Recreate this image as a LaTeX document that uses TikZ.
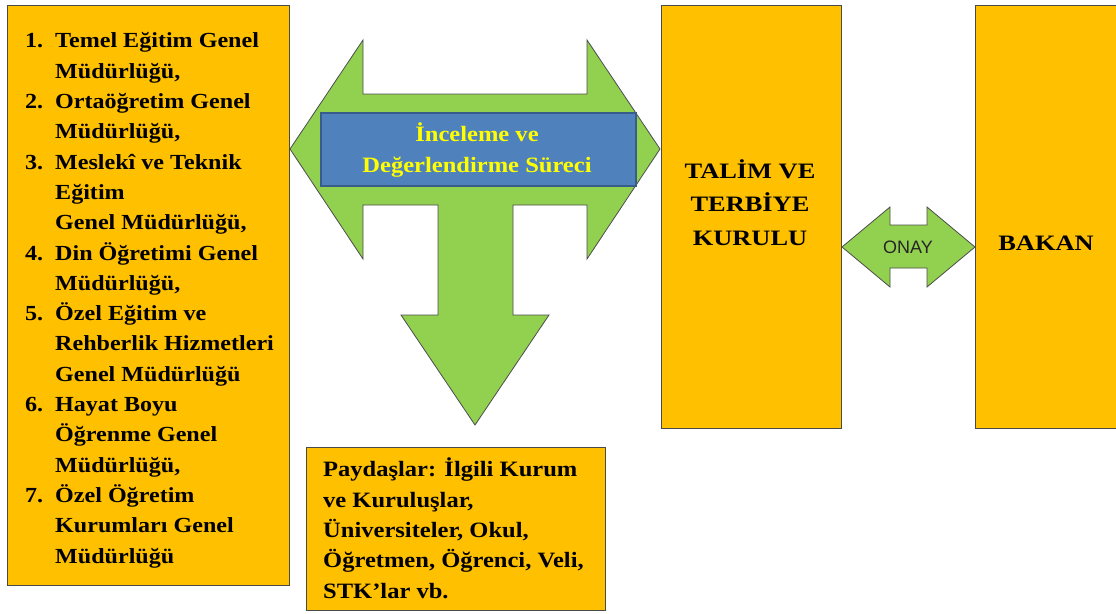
\documentclass[tikz,border=0pt]{standalone}
\usepackage{fontspec}
\setmainfont{Liberation Serif}
\newfontfamily\stfont{Liberation Serif}[FakeStretch=1.12]
\newfontfamily\widefont{Liberation Serif}[FakeStretch=1.2]
\newfontfamily\onayfont{Liberation Sans}
\usetikzlibrary{shadows}
\definecolor{boxorange}{HTML}{FFC000}
\definecolor{arrowgreen}{HTML}{92D050}
\definecolor{procblue}{HTML}{4F81BD}
\definecolor{procborder}{HTML}{385D8A}
\definecolor{edgegray}{HTML}{4A4A4A}
\definecolor{textyellow}{HTML}{FFFF00}
\newcommand{\lnum}[2]{\makebox[30pt][l]{#1.}#2}
\newcommand{\lcont}[1]{\hspace*{30pt}#1}
\tikzset{
  orangebox/.style={draw=edgegray, line width=1pt, fill=boxorange,
    drop shadow={opacity=0.35, shadow xshift=1.2pt, shadow yshift=-1.2pt}},
  greenarrow/.style={draw=black!70, line width=0.8pt, fill=arrowgreen, line join=miter},
  bluebox/.style={draw=procborder, line width=1.5pt, fill=procblue},
  bodytext/.style={inner sep=0pt, align=left, font=\stfont\bfseries\fontsize{21.9}{30.3}\selectfont},
  centertext/.style={inner sep=0pt, align=center, font=\widefont\bfseries\fontsize{22}{33.3}\selectfont},
}
\begin{document}
\begin{tikzpicture}[x=1pt, y=-1pt]
\useasboundingbox (0,0) rectangle (1116,613);
% boxes
\draw[orangebox] (7,5) rectangle (289,585);
\draw[orangebox] (306,447) rectangle (605,610);
\draw[orangebox] (661,5) rectangle (841,428);
\draw[orangebox] (975,5) rectangle (1119,428);
% three-way arrow
\draw[greenarrow] (290,149) -- (363,40) -- (363,94) -- (587,94) -- (587,40) -- (660,149)
  -- (587,259) -- (587,205) -- (513,205) -- (513,315) -- (549,315) -- (475,425)
  -- (401,315) -- (438,315) -- (438,205) -- (363,205) -- (363,259) -- cycle;
% ONAY arrow
\draw[greenarrow] (842,247) -- (890,207) -- (890,225) -- (927,225) -- (927,207) -- (975,247)
  -- (927,287) -- (927,268) -- (890,268) -- (890,287) -- cycle;
% blue process box
\node[bluebox, minimum width=315pt, minimum height=73pt, anchor=north west, inner sep=0pt] (proc) at (320,112) {};
\node[inner sep=0pt, align=center, text=textyellow, font=\stfont\bfseries\fontsize{21.9}{30.3}\selectfont, anchor=base] (proctext) at (477,172)
  {İnceleme ve\\Değerlendirme Süreci};
% left list
\node[bodytext, font=\stfont\bfseries\fontsize{21.5}{30.3}\selectfont, anchor=base west] (list) at (25,563) {%
\lnum{1}{Temel Eğitim Genel}\\
\lcont{Müdürlüğü,}\\
\lnum{2}{Ortaöğretim Genel}\\
\lcont{Müdürlüğü,}\\
\lnum{3}{Meslekî ve Teknik}\\
\lcont{Eğitim}\\
\lcont{Genel Müdürlüğü,}\\
\lnum{4}{Din Öğretimi Genel}\\
\lcont{Müdürlüğü,}\\
\lnum{5}{Özel Eğitim ve}\\
\lcont{Rehberlik Hizmetleri}\\
\lcont{Genel Müdürlüğü}\\
\lnum{6}{Hayat Boyu}\\
\lcont{Öğrenme Genel}\\
\lcont{Müdürlüğü,}\\
\lnum{7}{Özel Öğretim}\\
\lcont{Kurumları Genel}\\
\lcont{Müdürlüğü}};
% stakeholders
\node[bodytext, anchor=base west] (stake) at (323,598) {%
Paydaşlar: İlgili Kurum\\
ve Kuruluşlar,\\
Üniversiteler, Okul,\\
Öğretmen, Öğrenci, Veli,\\
STK’lar vb.};
% TTK
\node[centertext, anchor=base] (ttk) at (750,245) {TALİM VE\\TERBİYE\\KURULU};
% BAKAN
\node[centertext, anchor=base] (bakan) at (1046,250) {BAKAN};
% ONAY
\node[inner sep=0pt, font=\onayfont\fontsize{18}{20}\selectfont, text=black!85] (onay) at (908,247) {ONAY};
\end{tikzpicture}
\end{document}
